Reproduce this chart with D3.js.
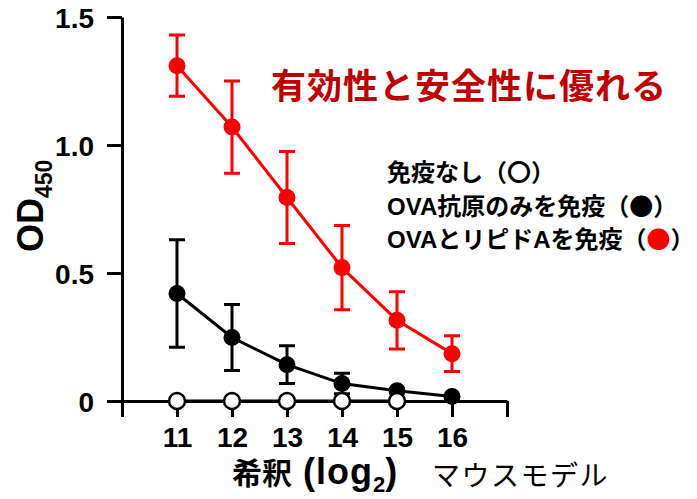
<!DOCTYPE html>
<html>
<head>
<meta charset="utf-8">
<script src="https://cdn.jsdelivr.net/npm/d3@7/dist/d3.min.js"></script>
<style>
  html, body { margin: 0; padding: 0; background: #fff; }
  svg { display: block; }
  text { font-family: "Liberation Sans", Arial, "Noto Sans CJK JP", sans-serif; }
</style>
</head>
<body>
<svg id="chart" width="697" height="499"></svg>
<script>
// Dilution (log2) on x, OD450 on y
const dilutions = [11, 12, 13, 14, 15, 16];
const yTicks = [0, 0.5, 1.0, 1.5];
const yTickLabels = ["0", "0.5", "1.0", "1.5"];

// OVA + lipid A immunised (red)
const lipidMean = [1.31, 1.07, 0.795, 0.521, 0.315, 0.185];
const lipidErr  = [0.12, 0.18, 0.18, 0.165, 0.112, 0.07];

// OVA antigen only (filled black)
const ovaMean = [0.42, 0.248, 0.142, 0.068, 0.04, 0.018];
const ovaErr  = [0.21, 0.129, 0.074, 0.04, 0.008, 0.005];

// Not immunised (open circles)
const naiveDil  = [11, 12, 13, 14, 15];
const naiveMean = [0, 0, 0, 0, 0];

// legend rows: text, marker glyph, marker colour
const legendText   = ["免疫なし", "OVA抗原のみを免疫", "OVAとリピドAを免疫"];
const legendMark   = ["〇", "●", "●"];
const legendColour = ["#000", "#000", "#ff0000"];

const svg = d3.select("#chart");
const x = d3.scaleLinear().domain([10, 17]).range([122, 507]);
const y = d3.scaleLinear().domain([0, 1.5]).range([401, 17]);

// axes
const yAxis = d3.axisLeft(y).tickValues(yTicks)
  .tickFormat((d, i) => yTickLabels[i]).tickSize(15).tickSizeOuter(0).tickPadding(13);
const gy = svg.append("g").attr("transform", `translate(${x(10)},0)`).call(yAxis);

const xAxis = d3.axisBottom(x).tickValues([10, 11, 12, 13, 14, 15, 16, 17])
  .tickFormat(d => (d >= 11 && d <= 16) ? d : "").tickSize(16).tickSizeOuter(0).tickPadding(10);
const gx = svg.append("g").attr("transform", `translate(0,${y(0)})`).call(xAxis);

[gx, gy].forEach(g => {
  g.selectAll("path, line").attr("stroke", "#000").attr("stroke-width", 3);
  g.selectAll("text").attr("fill", "#000").style("font-size", "28px").style("font-weight", "bold")
    .style("font-family", "'Liberation Sans', Arial, sans-serif");
});
gy.selectAll("text").attr("dy", "0.36em");

// series drawing
const line = d3.line().x(d => x(d[0])).y(d => y(d[1]));
function series(dil, mean, err, color, r, open) {
  const g = svg.append("g");
  const pts = dil.map((d, i) => [d, mean[i], err ? err[i] : 0]);
  g.append("path").datum(pts).attr("d", line).attr("fill", "none")
    .attr("stroke", color).attr("stroke-width", 3);
  if (err) {
    const cap = 8;
    pts.forEach(p => {
      const top = y(p[1] + p[2]), bot = y(Math.max(0, p[1] - p[2])), cx = x(p[0]);
      g.append("path")
        .attr("d", `M${cx},${top}V${bot}M${cx - cap},${top}H${cx + cap}M${cx - cap},${bot}H${cx + cap}`)
        .attr("stroke", color).attr("stroke-width", 3).attr("fill", "none");
    });
  }
  g.selectAll("circle").data(pts).join("circle")
    .attr("cx", d => x(d[0])).attr("cy", d => y(d[1])).attr("r", r)
    .attr("fill", open ? "#fff" : color)
    .attr("stroke", open ? "#000" : "none").attr("stroke-width", 2.5);
}
series(dilutions, ovaMean, ovaErr, "#000", 8.5, false);
series(dilutions, lipidMean, lipidErr, "#ff0000", 8.5, false);
series(naiveDil, naiveMean, null, "#000", 8, true);

// y axis title
const yt = svg.append("text").attr("transform", "translate(43,252) rotate(-90)")
  .style("font-size", "36px").style("font-weight", "bold").attr("fill", "#000");
yt.append("tspan").text("OD");
yt.append("tspan").attr("dy", 9).style("font-size", "23px").text("450");

// x axis title
const xt = svg.append("text").attr("x", 232).attr("y", 484)
  .style("font-size", "30px").style("font-weight", "bold").attr("fill", "#000");
xt.append("tspan").style("font-family", "'Noto Sans CJK JP', sans-serif").text("希釈");
xt.append("tspan").style("font-size", "36px").style("letter-spacing", "1px").text(" (log");
xt.append("tspan").attr("dy", 8).style("font-size", "22px").text("2");
xt.append("tspan").attr("dy", -8).style("font-size", "36px").text(")");

svg.append("text").attr("x", 432).attr("y", 486)
  .style("font-family", "'Noto Sans CJK JP', sans-serif").style("font-size", "28px")
  .style("letter-spacing", "1.5px").attr("fill", "#000").text("マウスモデル");

// headline
svg.append("text").attr("x", 271).attr("y", 99)
  .style("font-family", "'Noto Sans CJK JP', sans-serif").style("font-size", "35px")
  .style("letter-spacing", "1px")
  .style("font-weight", "bold").attr("fill", "#c00000").text("有効性と安全性に優れる");

// legend
const lg = svg.append("g").style("font-size", "24px").style("font-weight", "bold");
const baselines = [181, 214.5, 248];
legendText.forEach((t, i) => {
  const tx = lg.append("text").attr("x", 387).attr("y", baselines[i]).attr("fill", "#000");
  tx.append("tspan").text(t);
  tx.append("tspan").style("font-family", "'Noto Sans CJK JP', sans-serif").text("（");
  tx.append("tspan").style("font-family", "'Noto Sans CJK JP', sans-serif")
    .attr("fill", legendColour[i]).text(legendMark[i]);
  tx.append("tspan").style("font-family", "'Noto Sans CJK JP', sans-serif").text("）");
});
</script>
</body>
</html>
